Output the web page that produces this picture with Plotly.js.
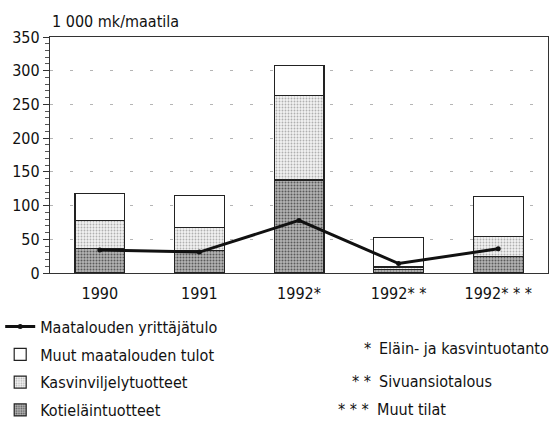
<!DOCTYPE html>
<html>
<head>
<meta charset="utf-8">
<script src="https://cdn.plot.ly/plotly-3.0.1.min.js"></script>
<style>html,body{margin:0;padding:0;background:#fff;}#chart{width:560px;height:421px;}</style>
</head>
<body>
<div id="chart"></div>
<script>
const categories = ["1990", "1991", "1992*", "1992* *", "1992* * *"];
const kotielain = [36, 33, 138, 5, 25];
const kasvinviljely = [42, 35, 125, 4, 29];
const muutTulot = [40, 47, 45, 44, 59];
const yrittajatulo = [34, 31, 78, 14, 36];
const yTicks = [0, 50, 100, 150, 200, 250, 300, 350];
const seriesNames = ["Maatalouden yrittäjätulo", "Muut maatalouden tulot", "Kasvinviljelytuotteet", "Kotieläintuotteet"];
const notes = ["*", "Eläin- ja kasvintuotanto", "* *", "Sivuansiotalous", "* * *", "Muut tilat"];

const FONT = "Liberation Sans Narrow, DejaVu Sans Condensed, Arial Narrow, sans-serif";

const traces = [
  {
    type: "bar", x: categories, y: kotielain, name: seriesNames[3],
    legendgroup: "d", legendrank: 4, width: 0.5,
    marker: {color: "#a6a6a6", line: {color: "#222", width: 1.2},
      pattern: {shape: ".", fgcolor: "#5a5a5a", bgcolor: "#b4b4b4", size: 3, solidity: 0.35}}
  },
  {
    type: "bar", x: categories, y: kasvinviljely, name: seriesNames[2],
    legendgroup: "c", legendrank: 3, width: 0.5,
    marker: {color: "#eeeeee", line: {color: "#222", width: 1.2},
      pattern: {shape: ".", fgcolor: "#b0b0b0", bgcolor: "#f2f2f2", size: 3, solidity: 0.3}}
  },
  {
    type: "bar", x: categories, y: muutTulot, name: seriesNames[1],
    legendgroup: "b", legendrank: 2, width: 0.5,
    marker: {color: "#ffffff", line: {color: "#222", width: 1.2}}
  },
  {
    type: "scatter", mode: "lines+markers", x: categories, y: yrittajatulo, name: seriesNames[0],
    legendgroup: "a", legendrank: 1,
    line: {color: "#111", width: 3}, marker: {color: "#111", size: 5}
  }
];

const annotations = [
  {text: "1 000 mk/maatila", xref: "paper", yref: "paper", x: 0.0, y: 1.015, xanchor: "left", yanchor: "bottom",
   showarrow: false, font: {family: FONT, size: 16, color: "#111"}}
];
const noteY = [348, 381, 409];
const starX = [373, 373, 371];
for (let i = 0; i < 3; i++) {
  const py = (273 - noteY[i]) / 236;
  annotations.push({text: notes[2*i], xref: "paper", yref: "paper", x: (starX[i] - 50) / 498, y: py,
    xanchor: "right", yanchor: "middle", showarrow: false, font: {family: FONT, size: 16, color: "#111"}});
  annotations.push({text: notes[2*i+1], xref: "paper", yref: "paper", x: (starX[i] + 4 - 50) / 498, y: py,
    xanchor: "left", yanchor: "middle", showarrow: false, font: {family: FONT, size: 16, color: "#111"}});
}

const layout = {
  width: 560, height: 421,
  margin: {l: 50, r: 12, t: 37, b: 148, autoexpand: false},
  paper_bgcolor: "#fff", plot_bgcolor: "#fff",
  barmode: "stack",
  font: {family: FONT, size: 16, color: "#111"},
  showlegend: true,
  legend: {x: -0.1, y: -0.155, xanchor: "left", yanchor: "top", traceorder: "grouped",
    tracegroupgap: 4, font: {family: FONT, size: 16, color: "#111"}, bgcolor: "rgba(0,0,0,0)", itemwidth: 30},
  xaxis: {
    type: "category", range: [-0.5, 4.5], showline: true, linecolor: "#333", linewidth: 1.2, mirror: true,
    ticks: "", showgrid: false, zeroline: false, ticklabelstandoff: 6,
    tickfont: {family: FONT, size: 16, color: "#111"}
  },
  yaxis: {
    range: [0, 350], tickvals: yTicks, ticks: "outside", ticklen: 6, tickcolor: "#333",
    showline: true, linecolor: "#333", linewidth: 1.2, mirror: true,
    showgrid: true, gridcolor: "#b5b5b5", griddash: "3px,17px", gridwidth: 1, zeroline: false,
    minor: {dtick: 10, ticks: "outside", ticklen: 4, tickcolor: "#555", showgrid: false},
    tickfont: {family: FONT, size: 16, color: "#111"}
  },
  annotations: annotations
};

Plotly.newPlot("chart", traces, layout, {displayModeBar: false, staticPlot: true});
</script>
</body>
</html>
